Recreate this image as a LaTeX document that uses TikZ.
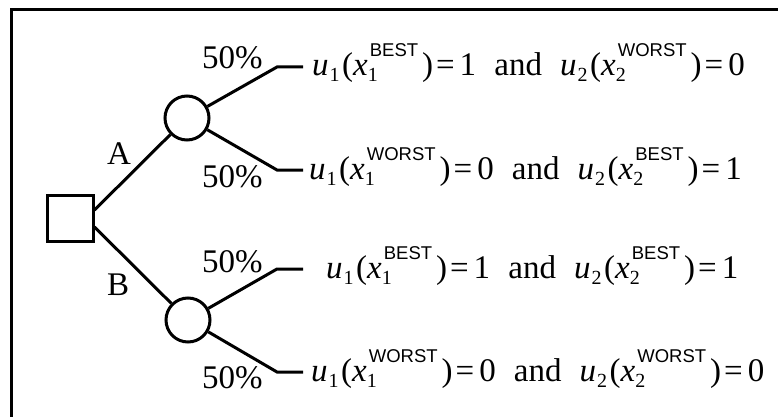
\documentclass[tikz,border=0pt]{standalone}
\usepackage{fontspec}
\setmainfont{Liberation Serif}
\newfontfamily\supf{Liberation Sans}
\newcommand{\subsz}{\fontsize{20}{20}\selectfont}
\newcommand{\supsz}{\supf\fontsize{18.5}{18.5}\selectfont}
\newcommand{\uterm}[3]{\textit{u}\kern1pt\raisebox{-6pt}{\subsz #1}\kern2.5pt(\textit{x}\rlap{\raisebox{-6pt}{\subsz #1}}\kern2pt\raisebox{19pt}{\supsz #2}\kern4pt)\kern3pt=\kern5pt#3}
\newcommand{\urow}[4]{\uterm{1}{#1}{#2}\hspace{0.55em}and\hspace{0.55em}\uterm{2}{#3}{#4}}
\tikzset{
  lbl/.style={inner sep=0pt, anchor=base west, font=\fontsize{33}{40}\selectfont},
  br/.style={line width=3pt},
  chance/.style={circle, draw, line width=3pt, minimum size=44pt, inner sep=0pt},
  decision/.style={rectangle, draw, line width=3pt, minimum size=46pt, inner sep=0pt}
}
\begin{document}
\begin{tikzpicture}[x=1pt,y=-1pt]
\useasboundingbox (0,0) rectangle (778,417);
\begin{scope}
\clip (0,0) rectangle (778,417);
\draw[line width=3pt] (11,10) rectangle (820,460);
\end{scope}
\node[decision] (dec) at (70,218.5) {};
\node[chance] (ca) at (187,118) {};
\node[chance] (cb) at (188,320) {};
\coordinate (e1) at (277,67);  \coordinate (f1) at (303,67);
\coordinate (e2) at (277,170); \coordinate (f2) at (303,170);
\coordinate (e3) at (277,269); \coordinate (f3) at (303,269);
\coordinate (e4) at (277,372); \coordinate (f4) at (303,372);
\draw[br] ([yshift=8.5pt]dec.east) -- (ca);
\draw[br] ([yshift=-8.5pt]dec.east) -- (cb);
\draw[br] (ca) -- (e1) -- (f1);
\draw[br] (ca) -- (e2) -- (f2);
\draw[br] (cb) -- (e3) -- (f3);
\draw[br] (cb) -- (e4) -- (f4);
\node[lbl] (la) at (107,164) {A};
\node[lbl] (lb) at (107,295) {B};
\node[lbl] (p1) at (202,69) {50\%};
\node[lbl] (p2) at (202,187) {50\%};
\node[lbl] (p3) at (202,272) {50\%};
\node[lbl] (p4) at (202,388) {50\%};
\node[lbl] (r1) at (312,76) {\urow{BEST}{1}{WORST}{0}};
\node[lbl] (r2) at (309,179) {\urow{WORST}{0}{BEST}{1}};
\node[lbl] (r3) at (326,278) {\urow{BEST}{1}{BEST}{1}};
\node[lbl] (r4) at (311,381) {\urow{WORST}{0}{WORST}{0}};
\end{tikzpicture}
\end{document}
